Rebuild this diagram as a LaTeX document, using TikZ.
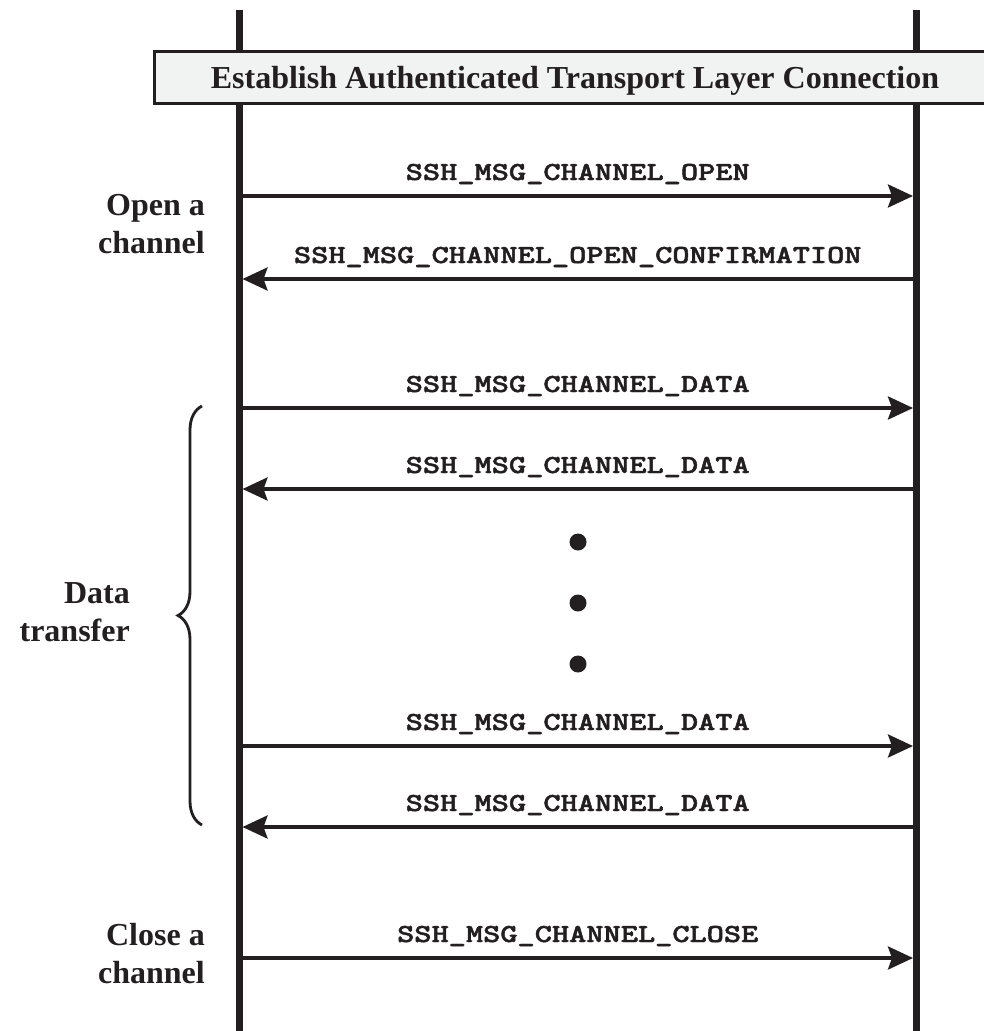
\documentclass[tikz,border=0pt]{standalone}
\usepackage{fontspec}
\setmainfont{Liberation Serif}
\newfontfamily\msgfont{lmmonolt10-bold.otf}[FakeBold=1.6]
\usepackage{graphicx}
\usetikzlibrary{arrows.meta,decorations.pathreplacing}
\definecolor{ink}{HTML}{231F20}
\definecolor{barfill}{HTML}{F1F2F2}
% message names: bold typewriter, widened to a Courier-like set width
\newcommand\msgtxt[1]{\scalebox{1.26}[1]{\fontsize{26}{26}\selectfont\msgfont #1}}

\begin{document}
\begin{tikzpicture}[x=1pt,y=-1pt,
  lifeline/.style={draw=ink, line width=7pt},
  msg/.style={draw=ink, line width=3.6pt,
    -{Stealth[length=25pt,width=23pt,inset=4pt]}, shorten >=3.5pt},
  msglabel/.style={anchor=base, yshift=16pt, inner sep=0pt, text=ink},
  phase/.style={anchor=base east, align=right, inner sep=0pt, text=ink,
    font=\fontsize{32}{38}\selectfont\bfseries},
  bar/.style={draw=ink, fill=barfill, line width=3pt, inner sep=0pt,
    minimum width=857pt, minimum height=52pt},
  title/.style={anchor=base, inner sep=0pt, text=ink,
    font=\fontsize{32}{32}\selectfont\bfseries},
  dot/.style={circle, fill=ink, minimum size=17pt, inner sep=0pt},
  bracket/.style={draw=ink, line width=2.8pt, decorate,
    decoration={brace, amplitude=24pt}},
]
\clip (0,0) rectangle (984,1031);

% the two lifelines
\coordinate (lt) at (239,10);   \coordinate (lb) at (239,1040);
\coordinate (rt) at (916.5,10); \coordinate (rb) at (916.5,1040);
\draw[lifeline] (lt) -- (lb);
\draw[lifeline] (rt) -- (rb);

% transport layer bar across both lifelines (runs off the right edge)
\node[bar] (estab) at (583,77.5) {};
\node[title] (ttl) at (575,88) {Establish Authenticated Transport Layer Connection};

% message end points on the lifelines
\coordinate (l1) at (239,196); \coordinate (r1) at (916.5,196);
\coordinate (l2) at (239,279); \coordinate (r2) at (916.5,279);
\coordinate (l3) at (239,408); \coordinate (r3) at (916.5,408);
\coordinate (l4) at (239,489); \coordinate (r4) at (916.5,489);
\coordinate (l5) at (239,746); \coordinate (r5) at (916.5,746);
\coordinate (l6) at (239,827); \coordinate (r6) at (916.5,827);
\coordinate (l7) at (239,958); \coordinate (r7) at (916.5,958);

% open a channel
\draw[msg] (l1) -- (r1) node[midway, msglabel] (m1) {\msgtxt{SSH\_MSG\_CHANNEL\_OPEN}};
\draw[msg] (r2) -- (l2) node[midway, msglabel] (m2) {\msgtxt{SSH\_MSG\_CHANNEL\_OPEN\_CONFIRMATION}};

% data transfer
\draw[msg] (l3) -- (r3) node[midway, msglabel] (m3) {\msgtxt{SSH\_MSG\_CHANNEL\_DATA}};
\draw[msg] (r4) -- (l4) node[midway, msglabel] (m4) {\msgtxt{SSH\_MSG\_CHANNEL\_DATA}};
\node[dot] (d1) at (578,542) {};
\node[dot] (d2) at (578,603) {};
\node[dot] (d3) at (578,664) {};
\draw[msg] (l5) -- (r5) node[midway, msglabel] (m5) {\msgtxt{SSH\_MSG\_CHANNEL\_DATA}};
\draw[msg] (r6) -- (l6) node[midway, msglabel] (m6) {\msgtxt{SSH\_MSG\_CHANNEL\_DATA}};

% close a channel
\draw[msg] (l7) -- (r7) node[midway, msglabel] (m7) {\msgtxt{SSH\_MSG\_CHANNEL\_CLOSE}};

% phase labels (anchored on the baseline of their last line)
\node[phase] (open) at (205,253) {Open a\\channel};
\node[phase] (data) at (130,641) {Data\\transfer};
\node[phase] (close) at (205,983) {Close a\\channel};

% brace grouping the data transfer messages
\coordinate (bb) at (202,825);
\coordinate (bt) at (202,406);
\draw[bracket] (bb) -- (bt);
\end{tikzpicture}
\end{document}
